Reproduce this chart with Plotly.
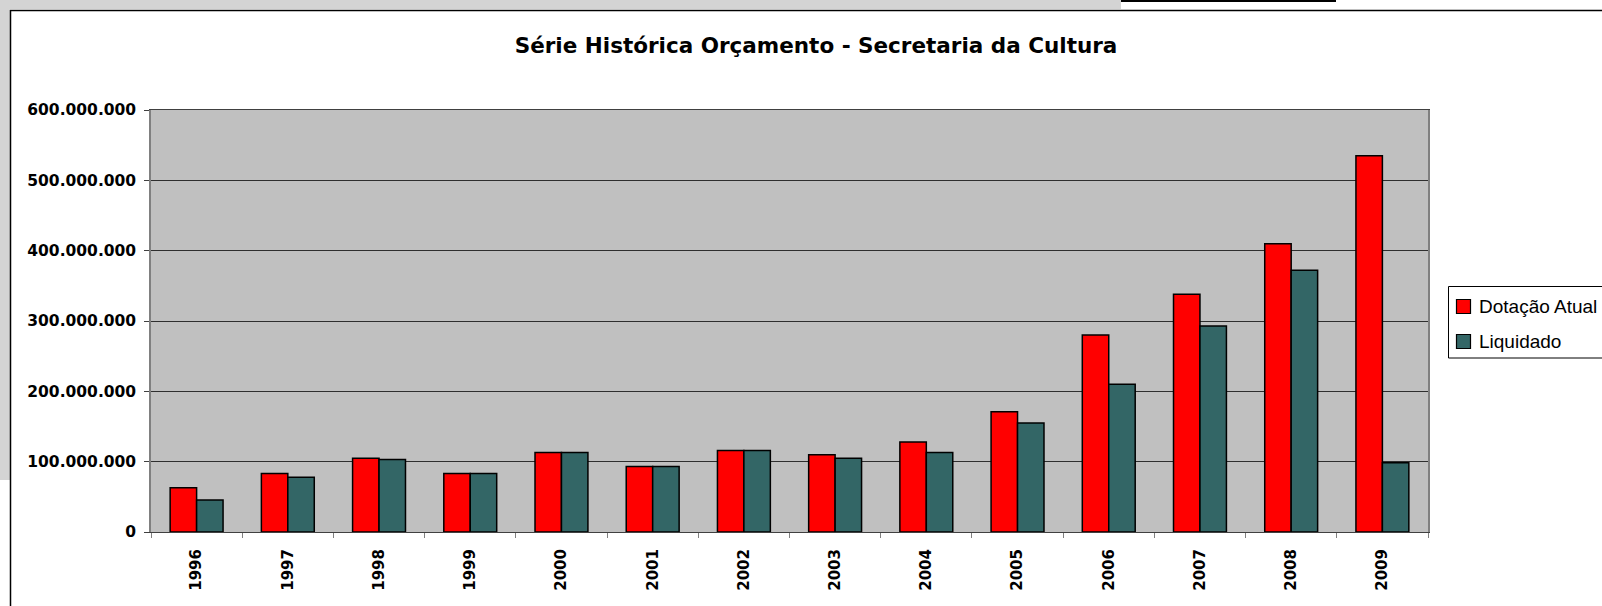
import plotly.graph_objects as go

# ---- data ----
anos = ["1996", "1997", "1998", "1999", "2000", "2001", "2002",
        "2003", "2004", "2005", "2006", "2007", "2008", "2009"]
dotacao_atual = [63e6, 83e6, 105e6, 83e6, 113e6, 93e6, 116e6,
                 110e6, 128e6, 171e6, 280e6, 338e6, 410e6, 535e6]
liquidado = [45.5e6, 78e6, 103e6, 83e6, 113e6, 93e6, 116e6,
             105e6, 113e6, 155e6, 210e6, 293e6, 372e6, 98.5e6]
y_ticks = [0, 100e6, 200e6, 300e6, 400e6, 500e6, 600e6]
series_names = ["Dotação Atual", "Liquidado"]
series_colors = ["#ff0000", "#336666"]

W, H = 1602, 606
ML, MR, MT, MB = 151, 174, 110, 74
PW, PH = W - ML - MR, H - MT - MB


def px_x(p):
    return (p - ML) / PW


def px_y(p):
    return (H - MB - p) / PH


fig = go.Figure()
for name, vals, col in zip(series_names, [dotacao_atual, liquidado], series_colors):
    fig.add_trace(go.Bar(
        x=anos, y=vals, name=name, showlegend=False,
        marker=dict(color=col, line=dict(color="#000000", width=1.5)),
    ))

shapes = []
annotations = []
grey = "#d4d4d4"
# top grey band
shapes.append(dict(type="rect", xref="paper", yref="paper",
                   x0=px_x(0), x1=px_x(1121), y0=px_y(9), y1=px_y(0),
                   fillcolor=grey, line=dict(width=0), layer="below"))
# left grey band
shapes.append(dict(type="rect", xref="paper", yref="paper",
                   x0=px_x(0), x1=px_x(10), y0=px_y(480), y1=px_y(0),
                   fillcolor=grey, line=dict(width=0), layer="below"))
# thick black top line
shapes.append(dict(type="rect", xref="paper", yref="paper",
                   x0=px_x(1121), x1=px_x(1336), y0=px_y(2), y1=px_y(0),
                   fillcolor="#000000", line=dict(width=0), layer="above"))
# frame lines
shapes.append(dict(type="line", xref="paper", yref="paper",
                   x0=px_x(10), x1=px_x(1602), y0=px_y(10.5), y1=px_y(10.5),
                   line=dict(color="#000000", width=1.5), layer="above"))
shapes.append(dict(type="line", xref="paper", yref="paper",
                   x0=px_x(10.5), x1=px_x(10.5), y0=px_y(10), y1=px_y(606),
                   line=dict(color="#000000", width=1.5), layer="above"))

# legend box (extends past the right edge as in the original)
shapes.append(dict(type="rect", xref="paper", yref="paper",
                   x0=px_x(1448.5), x1=px_x(1612), y0=px_y(358), y1=px_y(286.5),
                   fillcolor="#ffffff", line=dict(color="#000000", width=1),
                   layer="above"))
legend_rows = [306.5, 341.5]
for name, col, cy in zip(series_names, series_colors, legend_rows):
    shapes.append(dict(type="rect", xref="paper", yref="paper",
                       x0=px_x(1456.5), x1=px_x(1470.5),
                       y0=px_y(cy + 7), y1=px_y(cy - 7),
                       fillcolor=col, line=dict(color="#000000", width=1.2),
                       layer="above"))
    annotations.append(dict(
        text=name, xref="paper", yref="paper",
        x=px_x(1477), y=px_y(cy), xanchor="left", yanchor="middle",
        showarrow=False,
        font=dict(family="Liberation Sans", size=19, color="#000000"),
    ))

fig.update_layout(
    width=W, height=H,
    margin=dict(l=ML, r=MR, t=MT, b=MB, autoexpand=False),
    paper_bgcolor="#ffffff",
    plot_bgcolor="#c0c0c0",
    separators=",.",
    barmode="group",
    bargap=0.42,
    bargroupgap=0,
    showlegend=False,
    title=dict(
        text="Série Histórica Orçamento - Secretaria da Cultura",
        font=dict(family="DejaVu Sans", size=21.5, color="#000000", weight="bold"),
        xref="container", yref="container",
        x=816 / W, xanchor="center",
        y=1 - 45 / H, yanchor="middle",
    ),
    shapes=shapes,
    annotations=annotations,
    xaxis=dict(
        type="category",
        tickangle=-90,
        tickfont=dict(family="DejaVu Sans", size=15, color="#000000", weight="bold"),
        ticks="outside", ticklen=5, tickcolor="#808080", tickwidth=1,
        tickson="boundaries",
        ticklabelstandoff=10,
        showline=True, linecolor="#404040", linewidth=1, mirror=True,
        showgrid=False,
    ),
    yaxis=dict(
        range=[0, 600e6],
        tickvals=y_ticks,
        tickformat=",d",
        tickfont=dict(family="DejaVu Sans", size=15.5, color="#000000", weight="bold"),
        ticks="outside", ticklen=5, tickcolor="#404040", tickwidth=1,
        ticklabelstandoff=5,
        showline=True, linecolor="#808080", linewidth=1.5, mirror=True,
        showgrid=True, gridcolor="#2e2e2e", gridwidth=1,
        zeroline=False,
    ),
)

fig.write_html(
    "out.html",
    config={"displayModeBar": False},
    post_script="document.body.style.margin='0';document.body.style.overflow='hidden';",
)
